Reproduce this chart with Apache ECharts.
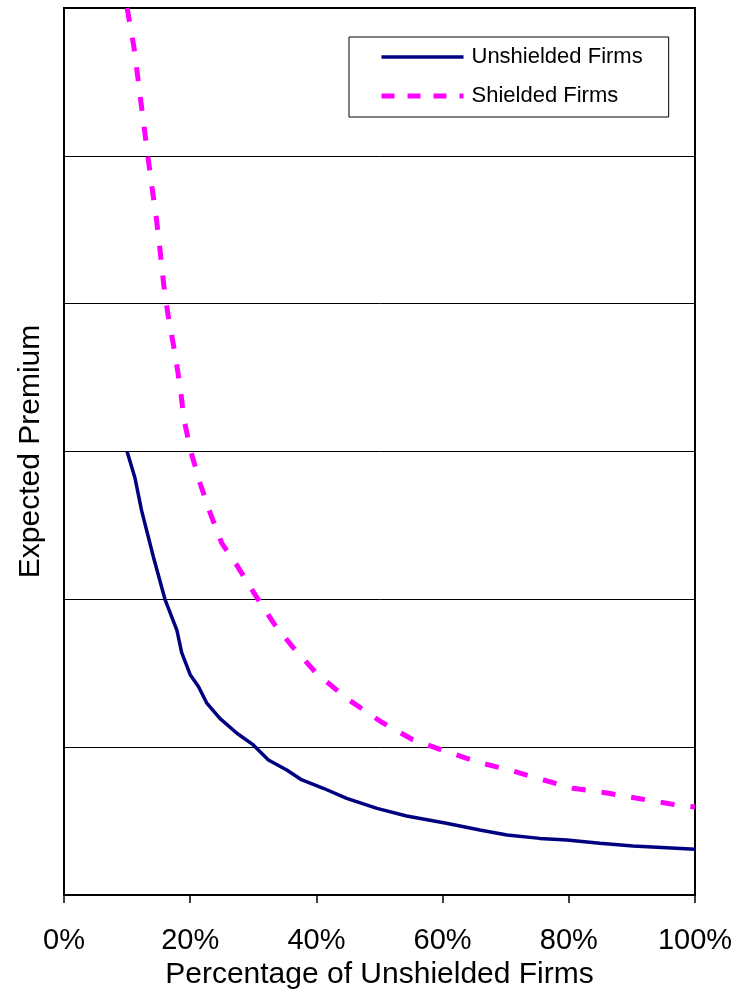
<!DOCTYPE html>
<html>
<head>
<meta charset="utf-8">
<script src="https://cdn.jsdelivr.net/npm/echarts@6/dist/echarts.min.js"></script>
<style>
  html, body { margin: 0; padding: 0; background: #fff; }
  #chart { width: 744px; height: 994px; }
</style>
</head>
<body>
<div id="chart"></div>
<script>
// Share of unshielded firms (%) and the expected premium for each group
const unshieldedX = [10, 11.25, 12.3, 14.15, 16.0, 17.9, 18.65, 20.0, 21.3, 22.6, 24.7, 27.4, 30.0, 32.4, 35.3, 37.7, 41.1, 44.8, 49.6, 54.3, 60.6, 65.9, 70.2, 75.4, 79.7, 84.9, 90.2, 100];
const unshieldedY = [3.0, 2.82, 2.60, 2.29, 2.0, 1.79, 1.64, 1.49, 1.41, 1.30, 1.195, 1.094, 1.015, 0.913, 0.846, 0.778, 0.722, 0.654, 0.586, 0.534, 0.485, 0.44, 0.406, 0.383, 0.372, 0.35, 0.331, 0.309];

const shieldedX = [10, 11.1, 11.7, 12.5, 13.1, 13.9, 14.6, 15.2, 15.8, 16.5, 17.6, 18.4, 19.0, 20.1, 21.6, 23.2, 25.0, 27.4, 30.3, 33.2, 36.2, 40.0, 44.8, 50.3, 55.3, 60.6, 65.9, 70.6, 76.0, 80.7, 86.3, 90.8, 97.1, 100];
const shieldedY = [6.0, 5.73, 5.53, 5.26, 5.06, 4.80, 4.59, 4.37, 4.13, 3.92, 3.66, 3.44, 3.22, 3.0, 2.78, 2.58, 2.38, 2.23, 2.03, 1.84, 1.68, 1.50, 1.33, 1.17, 1.05, 0.97, 0.895, 0.846, 0.778, 0.722, 0.688, 0.654, 0.609, 0.595];

const xTicks = [0, 20, 40, 60, 80, 100];
const seriesNames = ['Unshielded Firms', 'Shielded Firms'];
const xTitle = 'Percentage of Unshielded Firms';
const yTitle = 'Expected Premium';

const pairs = (xs, ys) => xs.map((x, i) => [x, ys[i]]);
const FONT = '"Liberation Sans", Arial, sans-serif';

const navyLine = { color: '#000080', width: 3.5 };
const pinkLine = { color: '#ff00ff', width: 5, type: [14, 16], cap: 'butt' };

const chart = echarts.init(document.getElementById('chart'), null, { renderer: 'canvas' });
chart.setOption({
  animation: false,
  backgroundColor: '#ffffff',
  textStyle: { fontFamily: FONT, color: '#000' },
  grid: {
    left: 64, right: 49, top: 8, bottom: 99,
    containLabel: false,
    outerBoundsMode: 'none',
    show: true, borderColor: '#000', borderWidth: 2
  },
  legend: {
    orient: 'vertical',
    left: 349, top: 37,
    padding: [9, 26, 10, 30],
    borderColor: '#000', borderWidth: 1,
    backgroundColor: '#fff',
    itemWidth: 82, itemHeight: 14, itemGap: 17,
    itemStyle: { opacity: 0 },
    textStyle: { fontFamily: FONT, fontSize: 22, color: '#000', lineHeight: 22, padding: [0, 0, 0, 3] },
    data: [
      { name: seriesNames[0], lineStyle: navyLine },
      { name: seriesNames[1], lineStyle: { color: '#ff00ff', width: 5, type: [13, 13], cap: 'butt' } }
    ]
  },
  xAxis: {
    type: 'value',
    min: xTicks[0], max: xTicks[xTicks.length - 1], interval: 20,
    name: xTitle, nameLocation: 'middle', nameGap: 57,
    nameTextStyle: { fontFamily: FONT, fontSize: 30, color: '#000' },
    axisLine: { show: true, lineStyle: { color: '#000', width: 2 } },
    axisTick: { show: true, length: 8, lineStyle: { color: '#000', width: 1.5 } },
    axisLabel: { fontFamily: FONT, fontSize: 29, color: '#000', margin: 31, formatter: '{value}%' },
    splitLine: { show: false }
  },
  yAxis: {
    type: 'value',
    min: 0, max: 6, interval: 1,
    name: yTitle, nameLocation: 'middle', nameGap: 18,
    nameTextStyle: { fontFamily: FONT, fontSize: 30, color: '#000' },
    axisLine: { show: true, lineStyle: { color: '#000', width: 2 } },
    axisTick: { show: false },
    axisLabel: { show: false },
    splitLine: { show: true, lineStyle: { color: '#000', width: 1 } }
  },
  series: [
    {
      name: seriesNames[0], type: 'line',
      data: pairs(unshieldedX, unshieldedY),
      symbol: 'none', smooth: false, clip: true,
      lineStyle: navyLine,
      itemStyle: { color: '#000080' }
    },
    {
      name: seriesNames[1], type: 'line',
      data: pairs(shieldedX, shieldedY),
      symbol: 'none', smooth: false, clip: true,
      lineStyle: pinkLine,
      itemStyle: { color: '#ff00ff' }
    }
  ]
});
</script>
</body>
</html>
